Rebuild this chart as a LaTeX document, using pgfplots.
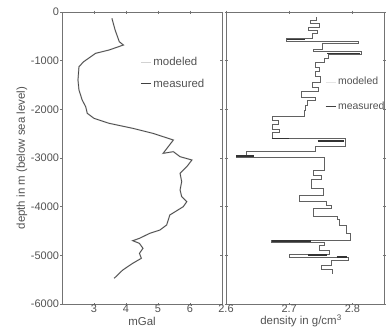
\documentclass[border=0pt]{standalone}
\usepackage{fontspec}
\setmainfont{Liberation Sans}
\usepackage{pgfplots}
\pgfplotsset{compat=1.18}
\definecolor{ink}{gray}{0.32}
\definecolor{frm}{gray}{0.45}
\begin{document}
\begin{tikzpicture}
\path[use as bounding box] (-62bp,-24bp) rectangle (324bp,304bp);
\pgfplotsset{
  every axis/.append style={
    scale only axis, height=292bp,
    ymin=-6000, ymax=0, ytick={-6000,-5000,...,0},
    axis line style={frm, line width=0.8pt},
    tick style={frm, line width=0.6pt}, major tick length=3bp, tick align=center,
    tick label style={font=\fontsize{11}{12}\selectfont, text=ink},
    label style={font=\fontsize{11.5}{13}\selectfont, text=ink},
    /pgf/number format/assume math mode=true,
    /pgf/number format/1000 sep={},
    x tick label style={yshift=4bp},
    y tick label style={xshift=2bp},
    legend style={draw=none, fill=none, font=\fontsize{11.5}{13}\selectfont, text=ink, inner sep=0pt},
    legend cell align=left,
    legend image code/.code={\draw[#1] (0bp,0bp) -- (10bp,0bp);},
  }
}
\begin{axis}[at={(0bp,0bp)}, anchor=south west, width=160bp,
  xmin=2, xmax=7, xtick={3,4,5,6},
  ylabel={depth in m (below sea level)},
  ylabel style={at={(axis description cs:-0.25,0.5)}, anchor=center},
  xlabel={mGal},
  xlabel style={at={(axis description cs:0.5,-0.058)}, anchor=center},
  legend style={at={(axis description cs:0.49,0.853)}, anchor=north west, row sep=8bp},
]
\addlegendimage{gray!35, line width=0.6pt}
\addlegendentry{modeled}
\addlegendimage{black!75, line width=0.8pt}
\addlegendentry{measured}
\addplot[gray!45, line width=1.4pt, forget plot] coordinates {
(3.56,-130)(3.66,-370)(3.79,-610)(3.92,-678)(3.47,-781)(3.05,-849)(2.68,-1020)
(2.53,-1123)(2.50,-1397)(2.53,-1602)(2.63,-1808)(2.74,-1945)(2.79,-2082)(3.00,-2185)
(3.47,-2287)(4.21,-2390)(4.84,-2493)(5.48,-2630)(5.32,-2767)(5.16,-2904)(5.48,-2870)
(5.69,-2973)(6.06,-3041)(5.90,-3178)(5.69,-3315)(5.74,-3486)(5.69,-3657)(5.74,-3794)
(5.90,-3897)(5.79,-4000)(5.37,-4171)(5.27,-4377)(5.06,-4480)(4.74,-4548)(4.42,-4651)
(4.21,-4699)(4.42,-4754)(4.53,-4856)(4.42,-4959)(4.48,-5061)(4.21,-5164)(3.90,-5301)(3.63,-5472)
};
\addplot[black!72, line width=0.7pt, forget plot] coordinates {
(3.56,-130)(3.66,-370)(3.79,-610)(3.92,-678)(3.47,-781)(3.05,-849)(2.68,-1020)
(2.53,-1123)(2.50,-1397)(2.53,-1602)(2.63,-1808)(2.74,-1945)(2.79,-2082)(3.00,-2185)
(3.47,-2287)(4.21,-2390)(4.84,-2493)(5.48,-2630)(5.32,-2767)(5.16,-2904)(5.48,-2870)
(5.69,-2973)(6.06,-3041)(5.90,-3178)(5.69,-3315)(5.74,-3486)(5.69,-3657)(5.74,-3794)
(5.90,-3897)(5.79,-4000)(5.37,-4171)(5.27,-4377)(5.06,-4480)(4.74,-4548)(4.42,-4651)
(4.21,-4699)(4.42,-4754)(4.53,-4856)(4.42,-4959)(4.48,-5061)(4.21,-5164)(3.90,-5301)(3.63,-5472)
};
\end{axis}
\begin{axis}[at={(164bp,0bp)}, anchor=south west, width=158bp,
  xmin=2.6, xmax=2.85, xtick={2.6,2.7,2.8},
  /pgf/number format/fixed, /pgf/number format/precision=1,
  yticklabels={},
  xlabel={density in g/cm\textsuperscript{3}},
  xlabel style={at={(axis description cs:0.475,-0.058)}, anchor=center},
  legend style={at={(axis description cs:0.627,0.784)}, anchor=north west, row sep=12bp,
    font=\fontsize{10.5}{12}\selectfont},
  unbounded coords=jump,
]
\addlegendimage{gray!20, line width=0.6pt}
\addlegendentry{modeled}
\addlegendimage{black!75, line width=0.8pt}
\addlegendentry{measured}
\addplot[draw=black!62, line width=0.9pt, line join=miter, forget plot] coordinates {
(2.743,-100)(2.743,-170)
(2.734,-170)(2.734,-240)
(2.748,-240)(2.748,-310)
(2.731,-310)(2.731,-375)
(2.745,-375)(2.745,-445)
(2.736,-445)(2.736,-540)
(2.696,-540)(2.696,-600)
(2.810,-600)(2.810,-640)
(2.752,-640)(2.752,-760)
(2.738,-760)(2.738,-820)
(2.814,-820)(2.814,-870)
(2.762,-870)(2.762,-950)
(2.756,-950)(2.756,-1030)
(2.741,-1030)(2.741,-1130)
(2.748,-1130)(2.748,-1230)
(2.741,-1230)(2.741,-1330)
(2.750,-1330)(2.750,-1440)
(2.736,-1440)(2.736,-1540)
(2.747,-1540)(2.747,-1640)
(2.719,-1640)(2.719,-1750)
(2.741,-1750)(2.741,-1815)
(2.729,-1815)(2.729,-1920)
(2.725,-1920)(2.725,-2020)
(2.724,-2020)(2.724,-2140)
(2.673,-2140)(2.673,-2220)
(2.683,-2220)(2.683,-2320)
(2.673,-2320)(2.673,-2420)
(2.684,-2420)(2.684,-2480)
(2.673,-2480)(2.673,-2596)
(2.789,-2596)(2.789,-2767)
(2.742,-2767)(2.742,-2870)
(2.633,-2870)(2.633,-2938)
(2.616,-2938)(2.616,-2985)
(2.756,-2985)(2.756,-3250)
(2.738,-3250)(2.738,-3350)
(2.751,-3350)(2.751,-3450)
(2.735,-3450)(2.735,-3620)
(2.754,-3620)(2.754,-3760)
(2.716,-3760)(2.716,-3900)
(2.759,-3900)(2.759,-3970)
(2.767,-3970)(2.767,-4035)
(2.738,-4035)(2.738,-4205)
(2.777,-4205)(2.777,-4270)
(2.780,-4270)(2.780,-4380)
(2.790,-4380)(2.790,-4550)
(2.797,-4550)(2.797,-4685)
(2.672,-4685)(2.672,-4730)
(2.756,-4730)(2.756,-4790)
(2.748,-4790)(2.748,-4890)
(2.764,-4890)(2.764,-4990)
(2.700,-4990)(2.700,-5050)
(2.794,-5050)(2.794,-5095)
(2.767,-5095)(2.767,-5200)
(2.751,-5200)(2.751,-5300)
(2.769,-5300)(2.769,-5380)
};
\addplot[black!80, line width=1.6pt, forget plot] coordinates {
(2.696,-565)(2.725,-565) (nan,nan)
(2.760,-850)(2.812,-850) (nan,nan)
(2.672,-2600)(2.700,-2600) (nan,nan)
(2.745,-2655)(2.787,-2655) (nan,nan)
(2.616,-2955)(2.645,-2955) (nan,nan)
(2.672,-4700)(2.735,-4700) (nan,nan)
(2.730,-4995)(2.760,-4995) (nan,nan)
(2.775,-5040)(2.792,-5040)
};
\end{axis}
\end{tikzpicture}
\end{document}
